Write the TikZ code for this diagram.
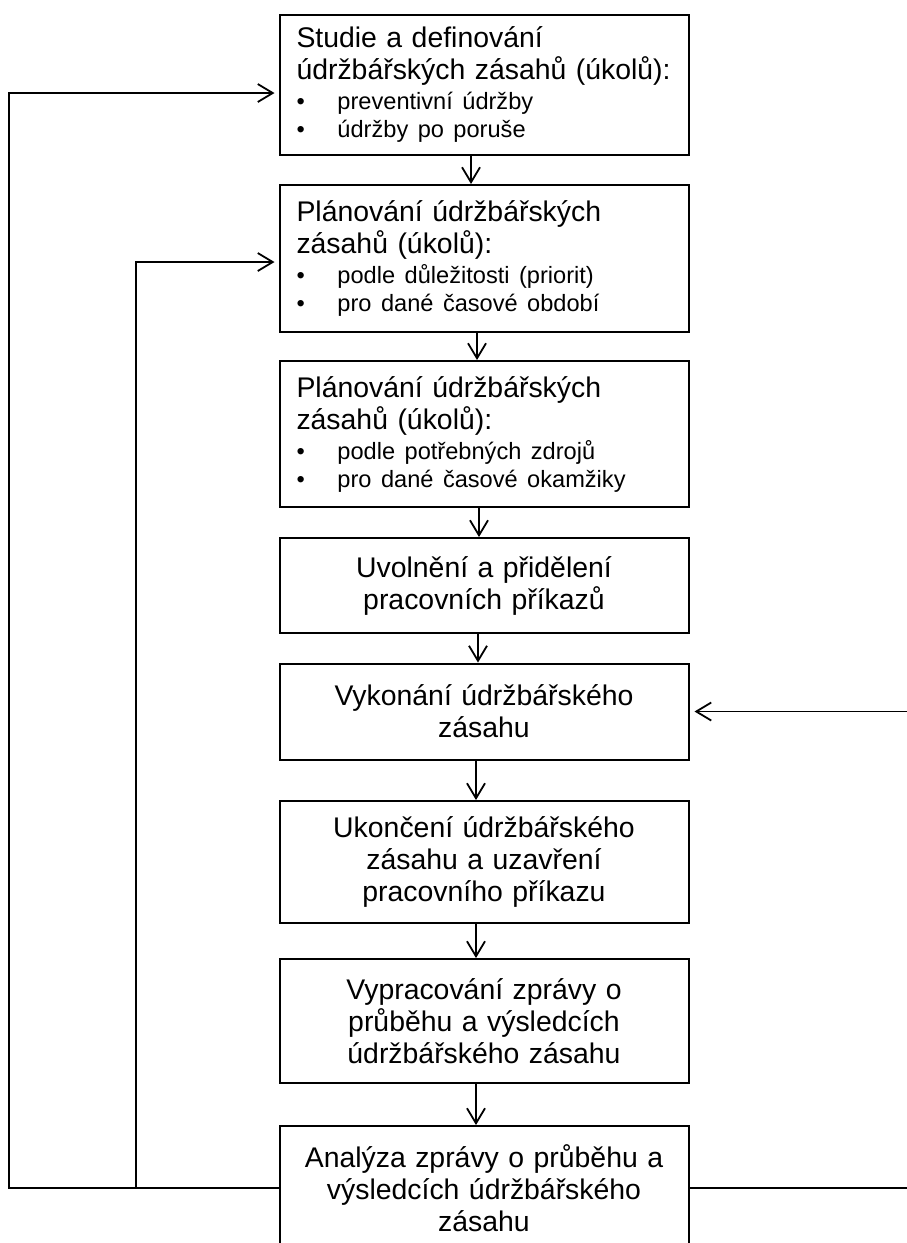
\documentclass[tikz,border=0pt]{standalone}
\usepackage{fontspec}
\setmainfont{Liberation Sans}
\usetikzlibrary{arrows.meta}

\tikzset{
    krok/.style = {draw, line width = 1pt, minimum width = 204.5pt,
        text width = 187.5pt, inner xsep = 8.5pt},
    vlevo/.style = {krok, align = left},
    stred/.style = {krok, align = center},
    tok/.style = {line width = 0.9pt,
        -{Straight Barb[length = 7.5pt, width = 9pt, line width = 0.9pt]}}
}
\newcommand{\odrazka}[1]{\makebox[20.5pt][l]{\textbullet}#1}
\newcommand{\mensi}[1]{\par\vspace{1pt}\fontsize{11.8}{14}\selectfont #1\par}

\begin{document}
\begin{tikzpicture}[font = \fontsize{14.2}{16}\selectfont, x = 0.5pt, y = -0.5pt]
        \useasboundingbox (0,0) rectangle (906,1243);
        
        \node [vlevo, minimum height = 70pt] (studie) at (484,84.5)
        {Studie a definování\\ údržbářských zásahů (úkolů):
        \mensi{\odrazka{preventivní údržby}\\ \odrazka{údržby po poruše}}};
        
        \node [vlevo, minimum height = 73.5pt] (planA) at (484,258.5)
        {Plánování údržbářských\\ zásahů (úkolů):
        \mensi{\odrazka{podle důležitosti (priorit)}\\ \odrazka{pro dané časové období}}};
        
        \node [vlevo, minimum height = 73pt] (planB) at (484,434)
        {Plánování údržbářských\\ zásahů (úkolů):
        \mensi{\odrazka{podle potřebných zdrojů}\\ \odrazka{pro dané časové okamžiky}}};
        
        \node [stred, minimum height = 47.5pt] (uvolneni) at (484,585.5)
        {Uvolnění a přidělení\\ pracovních příkazů};
        
        \node [stred, minimum height = 48pt] (vykonani) at (484,711.5)
        {Vykonání údržbářského\\ zásahu};
        
        \node [stred, minimum height = 61pt] (ukonceni) at (484,862)
        {Ukončení údržbářského\\ zásahu a uzavření\\ pracovního příkazu};
        
        \node [stred, minimum height = 62pt] (zprava) at (484,1021)
        {Vypracování zprávy o\\ průběhu a výsledcích\\ údržbářského zásahu};
        
        \node [stred, minimum height = 62pt] (analyza) at (484,1188)
        {Analýza zprávy o průběhu a\\ výsledcích údržbářského\\ zásahu};
        
        \coordinate (levy) at (9,1188);
        \coordinate (stredni) at (136,1188);
        \coordinate (pravy) at (914,1188);
        
        \draw [tok]
        ([xshift = -6.5pt]studie.south) -- ([xshift = -6.5pt]planA.north);
        
        \draw [tok]
        ([xshift = -3.5pt]planA.south) -- ([xshift = -3.5pt]planB.north);
        
        \draw [tok]
        ([xshift = -2.5pt]planB.south) -- ([xshift = -2.5pt]uvolneni.north);
        
        \draw [tok]
        ([xshift = -3pt]uvolneni.south) -- ([xshift = -3pt]vykonani.north);
        
        \draw [tok]
        ([xshift = -4pt]vykonani.south) -- ([xshift = -4pt]ukonceni.north);
        
        \draw [tok]
        ([xshift = -4pt]ukonceni.south) -- ([xshift = -4pt]zprava.north);
        
        \draw [tok]
        ([xshift = -4pt]zprava.south) -- ([xshift = -4pt]analyza.north);
        
        \draw [tok, shorten > = 2pt]
        (analyza.west) -- (levy) |- ([yshift = -4.25pt]studie.west);
        
        \draw [tok, shorten > = 2pt]
        (stredni) |- ([yshift = -1.75pt]planA.west);
        
        \draw [tok, shorten > = 2.5pt]
        (analyza.east) -- (pravy) |- (vykonani.east);
    \end{tikzpicture}
\end{document}
